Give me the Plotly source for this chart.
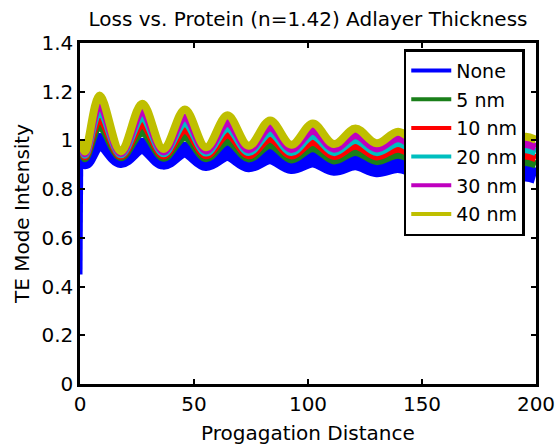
import plotly.graph_objects as go

# Propagation distance sample points (read at start, peaks and troughs)
distance = [0, 0.4, 2.2, 8.6, 17.9, 27.3, 36.6, 46.0, 55.3, 64.7, 74.0, 83.4, 92.7,
            102.1, 111.4, 120.8, 130.1, 139.5, 148.8, 158.2, 167.5, 176.9, 186.2, 195.6, 200]

none_nm = [0.45, 1.00, 0.915, 0.998, 0.920, 0.978, 0.913, 0.962, 0.907, 0.948, 0.902, 0.935, 0.895,
           0.922, 0.888, 0.910, 0.882, 0.899, 0.876, 0.888, 0.868, 0.876, 0.860, 0.864, 0.855]
nm5 = [0.45, 1.00, 0.927, 1.056, 0.931, 1.032, 0.929, 1.013, 0.927, 0.996, 0.926, 0.981, 0.922,
       0.968, 0.918, 0.953, 0.915, 0.941, 0.911, 0.931, 0.906, 0.921, 0.901, 0.911, 0.901]
nm10 = [0.45, 1.00, 0.935, 1.089, 0.937, 1.063, 0.938, 1.043, 0.939, 1.024, 0.939, 1.007, 0.938,
        0.994, 0.936, 0.978, 0.934, 0.966, 0.932, 0.957, 0.928, 0.947, 0.925, 0.938, 0.927]
nm20 = [0.45, 1.00, 0.941, 1.121, 0.943, 1.092, 0.947, 1.071, 0.950, 1.050, 0.952, 1.032, 0.952,
        1.019, 0.952, 1.002, 0.952, 0.989, 0.951, 0.980, 0.949, 0.971, 0.947, 0.964, 0.952]
nm30 = [0.45, 1.00, 0.947, 1.147, 0.948, 1.116, 0.955, 1.094, 0.959, 1.072, 0.963, 1.053, 0.965,
        1.040, 0.966, 1.021, 0.967, 1.009, 0.967, 1.000, 0.966, 0.991, 0.966, 0.985, 0.973]
nm40 = [0.45, 1.00, 0.955, 1.184, 0.955, 1.151, 0.965, 1.127, 0.972, 1.103, 0.978, 1.082, 0.982,
        1.069, 0.985, 1.049, 0.988, 1.036, 0.990, 1.028, 0.991, 1.020, 0.992, 1.015, 1.002]

names = ["None", "5 nm", "10 nm", "20 nm", "30 nm", "40 nm"]
series = [none_nm, nm5, nm10, nm20, nm30, nm40]
colors = ["#0000FF", "#1A7F1A", "#FF0000", "#00BFBF", "#BF00BF", "#BFBF00"]
widths = [16, 8, 8, 8, 8, 8]

FONT = "DejaVu Sans, Liberation Sans, Arial, sans-serif"

fig = go.Figure()
# initial drop at the launch point (thin, only the reference series shows it)
fig.add_trace(go.Scatter(x=distance[:2], y=none_nm[:2], mode="lines",
                         line=dict(color=colors[0], width=5), showlegend=False))
for name, ys, c, w in zip(names, series, colors, widths):
    fig.add_trace(go.Scatter(x=distance[1:], y=ys[1:], mode="lines", name=name,
                             line=dict(color=c, width=w, shape="spline", smoothing=1.0),
                             showlegend=False))
for i, (name, c) in enumerate(zip(names, colors)):
    fig.add_trace(go.Scatter(x=[None], y=[None], mode="lines", name=name,
                             legendgroup="g%d" % i,
                             line=dict(color=c, width=4)))

axis_common = dict(showline=True, linecolor="black", linewidth=2.5, mirror="ticks",
                   ticks="inside", ticklen=5, tickwidth=2, tickcolor="black",
                   showgrid=False, zeroline=False, automargin=False,
                   tickfont=dict(family=FONT, size=20, color="black"))

fig.update_layout(
    width=556, height=447,
    margin=dict(l=80, r=20, t=43, b=63),
    paper_bgcolor="white", plot_bgcolor="white",
    title=dict(text="Loss vs. Protein (n=1.42) Adlayer Thickness",
               font=dict(family=FONT, size=20, color="black"),
               x=0.554, xanchor="center", y=0.957, yanchor="middle"),
    xaxis=dict(range=[0, 200], tickvals=[0, 50, 100, 150, 200], **axis_common),
    yaxis=dict(range=[0, 1.4], tickvals=[0, 0.2, 0.4, 0.6, 0.8, 1, 1.2, 1.4],
               ticktext=["0", "0.2", "0.4", "0.6", "0.8", "1", "1.2", "1.4"],
               title=dict(text="TE Mode Intensity", font=dict(family=FONT, size=20, color="black"), standoff=7),
               **axis_common),
    legend=dict(x=0.71, y=0.982, xanchor="left", yanchor="top",
                bgcolor="white", bordercolor="black", borderwidth=2.5,
                font=dict(family=FONT, size=19, color="black"),
                tracegroupgap=1, itemwidth=40),
    annotations=[dict(text="Progagation Distance", xref="paper", yref="paper",
                      x=0.5, y=0, xanchor="center", yanchor="top", yshift=-35,
                      showarrow=False, font=dict(family=FONT, size=20, color="black"))],
)

fig.write_html("out.html", config={"displayModeBar": False},
               post_script="document.body.style.margin='0';document.body.style.overflow='hidden';")
